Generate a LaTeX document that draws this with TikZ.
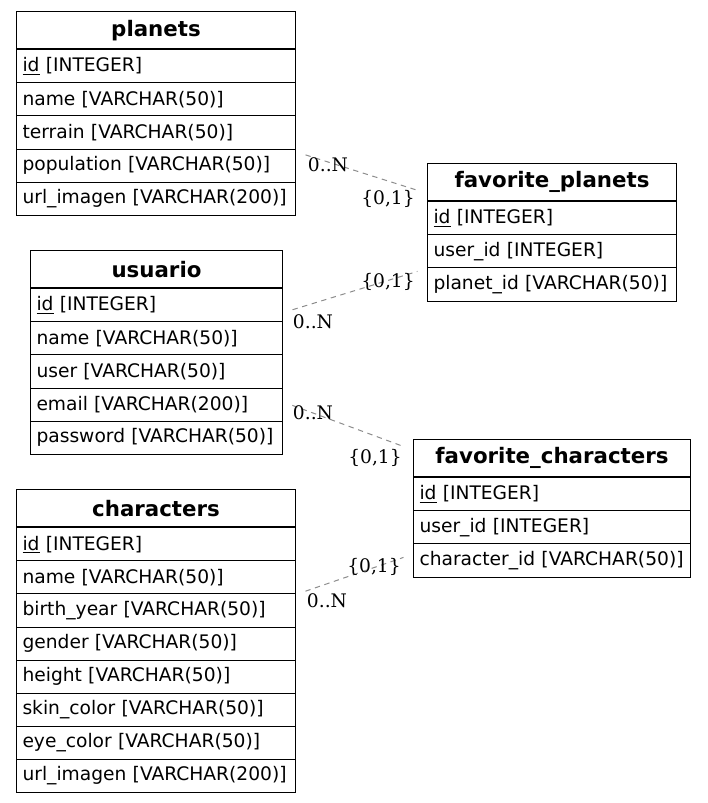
\documentclass[tikz,border=0pt]{standalone}
\usepackage{fontspec}
\setmainfont{DejaVu Sans}
\newfontfamily\cardfont{DejaVu Serif}

% #1 node name, #2 title, #3 top left corner, #4 width, #5 fields
\newcommand{\entity}[5]{%
    \node[head, minimum width = #4] (#1) at #3 {#2};
    \foreach \f [count = \i] in {#5}
    {
        \node[field, minimum width = #4, text width = #4-9pt] (#1\i)
            at ([yshift = {-(\i-1)*24.8pt}]#1.south) {\mbox{\f}};
    }
}

\begin{document}
\begin{tikzpicture}[x = 0.75pt,
                    y = -0.75pt,
                    line width = 0.75pt,
                    head/.style = {draw, anchor = north west, inner sep = 0pt,
                                   minimum height = 28pt,
                                   font = \fontsize{16pt}{18pt}\selectfont\bfseries},
                    field/.style = {draw, anchor = north, inner xsep = 4.5pt, inner ysep = 0pt,
                                    minimum height = 24.8pt, align = left,
                                    font = \fontsize{14pt}{16pt}\selectfont},
                    rel/.style = {draw = black!45, dash pattern = on 4pt off 3.5pt,
                                  shorten < = 7.5pt, shorten > = 7.5pt},
                    card/.style = {inner sep = 0pt, font = \fontsize{14pt}{16pt}\cardfont}]

    \useasboundingbox (0,0) rectangle (707,803);

    \entity{planets}{planets}{(16,11)}{209.25pt}
        {\underline{id} [INTEGER], name [VARCHAR(50)], terrain [VARCHAR(50)],
         population [VARCHAR(50)], url\_imagen [VARCHAR(200)]}
    \entity{favplanets}{favorite\_planets}{(427,163)}{186.75pt}
        {\underline{id} [INTEGER], user\_id [INTEGER], planet\_id [VARCHAR(50)]}
    \entity{usuario}{usuario}{(30,250)}{189pt}
        {\underline{id} [INTEGER], name [VARCHAR(50)], user [VARCHAR(50)],
         email [VARCHAR(200)], password [VARCHAR(50)]}
    \entity{favchars}{favorite\_characters}{(413,439)}{207.75pt}
        {\underline{id} [INTEGER], user\_id [INTEGER], character\_id [VARCHAR(50)]}
    \entity{characters}{characters}{(16,489)}{209.25pt}
        {\underline{id} [INTEGER], name [VARCHAR(50)], birth\_year [VARCHAR(50)],
         gender [VARCHAR(50)], height [VARCHAR(50)], skin\_color [VARCHAR(50)],
         eye\_color [VARCHAR(50)], url\_imagen [VARCHAR(200)]}

    \draw[rel] ([yshift = -2.5pt]planets4.north east) -- ([yshift = 6pt]favplanets.south west)
        node[card, pos = 0, xshift = 24pt, yshift = -9.75pt] (pn) {0..N}
        node[card, pos = 1, xshift = -29.25pt, yshift = -4.5pt] (pf) {\{0,1\}};
    \draw[rel] ([yshift = 7.3pt]usuario1.south east) -- (favplanets2.south west)
        node[card, pos = 0, xshift = 22.5pt, yshift = -6.75pt] (upn) {0..N}
        node[card, pos = 1, xshift = -29.25pt, yshift = -9.75pt] (upf) {\{0,1\}};
    \draw[rel] ([yshift = 2pt]usuario4.east) -- ([yshift = -8.25pt]favchars.north west)
        node[card, pos = 0, xshift = 22.5pt, yshift = -8.25pt] (ucn) {0..N}
        node[card, pos = 1, xshift = -28.5pt, yshift = -6pt] (ucf) {\{0,1\}};
    \draw[rel] (characters2.south east) -- ([yshift = -8pt]favchars3.north west)
        node[card, pos = 0, xshift = 23.25pt, yshift = -4.5pt] (cn) {0..N}
        node[card, pos = 1, xshift = -29.25pt, yshift = -9.75pt] (cf) {\{0,1\}};
\end{tikzpicture}
\end{document}
